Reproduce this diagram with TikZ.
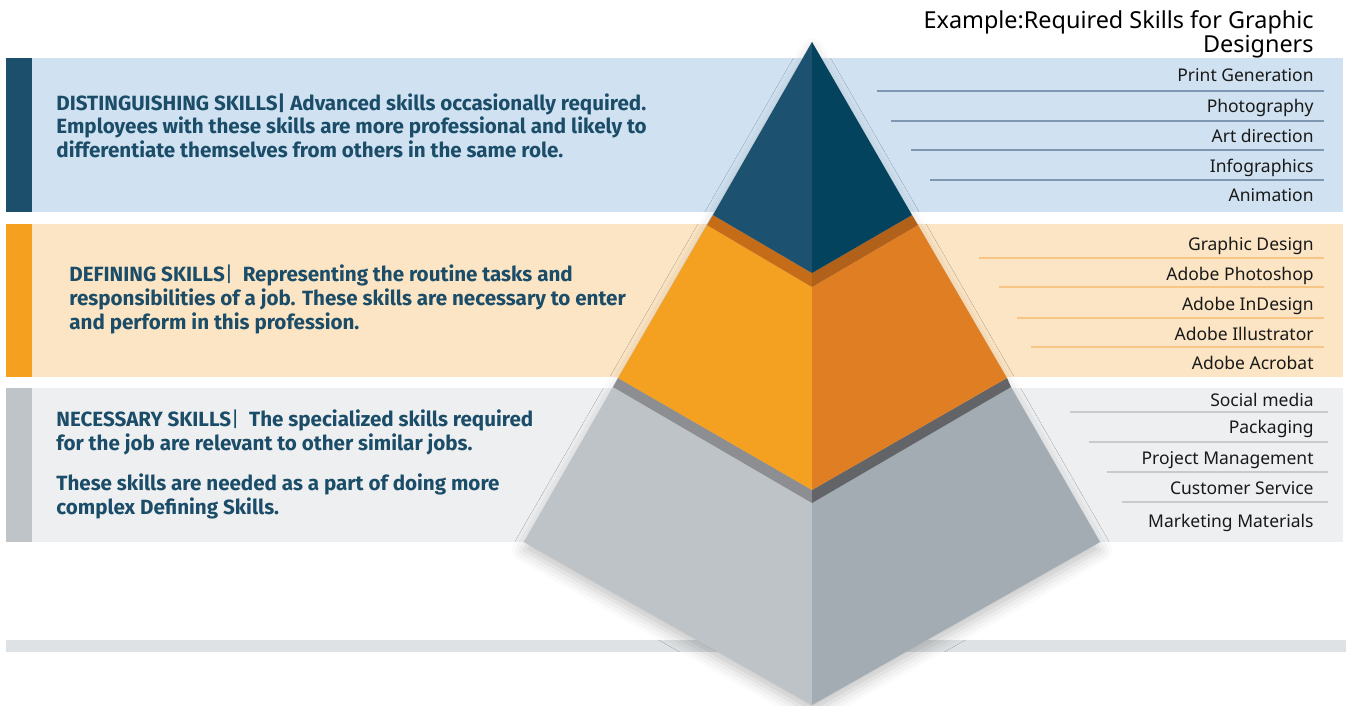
\documentclass[tikz,border=0pt]{standalone}
\usepackage{fontspec}
\setmainfont{Noto Sans}
\newfontfamily\skillfont{Fira Sans}
\usetikzlibrary{shadows.blur}
\definecolor{bandblue}{HTML}{D0E2F1}
\definecolor{bandorange}{HTML}{FCE5C4}
\definecolor{bandgray}{HTML}{EEEFF1}
\definecolor{barblue}{HTML}{1B4F6B}
\definecolor{barorange}{HTML}{F5A11F}
\definecolor{bargray}{HTML}{BEC4C8}
\definecolor{skilltext}{HTML}{1B4D69}
\definecolor{lineblue}{HTML}{7D98B0}
\definecolor{lineorange}{HTML}{F8C684}
\definecolor{linegray}{HTML}{C8CBCE}
\definecolor{floorgray}{HTML}{DFE2E4}
\definecolor{blueL}{HTML}{1C5270}
\definecolor{blueR}{HTML}{03435D}
\definecolor{stripOL}{HTML}{C56C19}
\definecolor{stripOR}{HTML}{B2611B}
\definecolor{orangeL}{HTML}{F4A020}
\definecolor{orangeR}{HTML}{E07E24}
\definecolor{stripGL}{HTML}{8C8E91}
\definecolor{stripGR}{HTML}{626467}
\definecolor{grayL}{HTML}{BDC3C7}
\definecolor{grayR}{HTML}{A2ACB2}
\begin{document}
\begin{tikzpicture}[x=0.5pt,y=-0.5pt,
    skill/.style={anchor=base west,align=left,inner sep=0pt,text=skilltext,
      font=\skillfont\bfseries\fontsize{10.3}{12}\selectfont},
    item/.style={anchor=base east,inner sep=0pt,text=black!90,
      font=\fontsize{8.75}{10}\selectfont},
    head/.style={anchor=base east,inner sep=0pt,text=black,align=right,
      font=\fontsize{11.7}{12}\selectfont},
    sepblue/.style={draw=lineblue,line width=0.7pt},
    seporange/.style={draw=lineorange,line width=0.7pt},
    sepgray/.style={draw=linegray,line width=0.7pt}]
  \useasboundingbox (0,0) rectangle (1346,706);
  \fill[bandblue] (6,58) rectangle (1343,212);
  \fill[bandorange] (6,224) rectangle (1343,377);
  \fill[bandgray] (6,388) rectangle (1343,542);
  \fill[barblue] (6,58) rectangle (32,212);
  \fill[barorange] (6,224) rectangle (32,377);
  \fill[bargray] (6,388) rectangle (32,542);
  \fill[floorgray] (6,640) rectangle (1346,652);
  \draw
    (56,158) node[skill] (dist){DISTINGUISHING SKILLS| Advanced skills occasionally required.\\
      Employees with these skills are more professional and likely to\\
      differentiate themselves from others in the same role.}
    (69,329) node[skill] (def){DEFINING SKILLS{\mdseries|}\ \ Representing the routine tasks and\\
      responsibilities of a job. These skills are necessary to enter\\
      and perform in this profession.}
    (56,450) node[skill] (nec){NECESSARY SKILLS{\mdseries|}\ \ The specialized skills required\\
      for the job are relevant to other similar jobs.}
    (56,514) node[skill] (need){These skills are needed as a part of doing more\\
      complex Defining Skills.};
  \draw
    (1314,53) node[head] (ex){Example:Required Skills for Graphic\\Designers}
    (1314,82) node[item] (pg){Print Generation}
    (1314,113) node[item] (ph){Photography}
    (1314,143) node[item] (ad){Art direction}
    (1314,173) node[item] (ig){Infographics}
    (1314,202) node[item] (an){Animation}
    (1314,250) node[item] (gd){Graphic Design}
    (1314,280) node[item] (ps){Adobe Photoshop}
    (1314,311) node[item] (id){Adobe InDesign}
    (1314,341) node[item] (il){Adobe Illustrator}
    (1314,370) node[item] (ac){Adobe Acrobat}
    (1314,407) node[item] (sm){Social media}
    (1314,433) node[item] (pk){Packaging}
    (1314,464) node[item] (pm){Project Management}
    (1314,494) node[item] (cs){Customer Service}
    (1314,527) node[item] (mm){Marketing Materials};
  \begin{scope}[-]
    \draw[sepblue] (877,91) -- (1324,91);
    \draw[sepblue] (891,121) -- (1324,121);
    \draw[sepblue] (911,150) -- (1324,150);
    \draw[sepblue] (930,180) -- (1324,180);
    \draw[seporange] (979,258) -- (1324,258);
    \draw[seporange] (999,287) -- (1324,287);
    \draw[seporange] (1017,318) -- (1324,318);
    \draw[seporange] (1031,347) -- (1324,347);
    \draw[sepgray] (1070,412) -- (1328,412);
    \draw[sepgray] (1089,442) -- (1328,442);
    \draw[sepgray] (1107,472) -- (1328,472);
    \draw[sepgray] (1122,502) -- (1328,502);
  \end{scope}
  \fill[grayL,blur shadow={shadow xshift=0pt,shadow yshift=-4pt,shadow blur radius=6pt,shadow opacity=22}]
    (812,42) -- (524,542) -- (812,705) -- (1100,542) -- cycle;
  \fill[grayL] (613,387) -- (524,542) -- (812,705) -- (812,503) -- cycle;
  \fill[grayR] (1011,387) -- (1100,542) -- (812,705) -- (812,503) -- cycle;
  \fill[stripGL] (618,378) -- (613,387) -- (812,503) -- (812,490) -- cycle;
  \fill[stripGR] (1007,378) -- (1011,387) -- (812,503) -- (812,490) -- cycle;
  \fill[orangeL] (707,225) -- (618,378) -- (812,490) -- (812,287) -- cycle;
  \fill[orangeR] (918,225) -- (1007,378) -- (812,490) -- (812,287) -- cycle;
  \fill[stripOL] (713,215) -- (707,225) -- (812,287) -- (812,273) -- cycle;
  \fill[stripOR] (912,215) -- (918,225) -- (812,287) -- (812,273) -- cycle;
  \fill[blueL] (812,42) -- (713,215) -- (812,273) -- cycle;
  \fill[blueR] (812,42) -- (912,215) -- (812,273) -- cycle;
\end{tikzpicture}
\end{document}
